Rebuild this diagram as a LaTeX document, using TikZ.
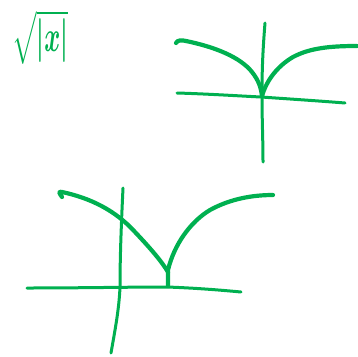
\documentclass[tikz,border=0pt]{standalone}
\usepackage{graphicx}
\definecolor{ink}{RGB}{0,176,80}
\begin{document}
\begin{tikzpicture}[x=1pt,y=-1pt,
  axisline/.style={ink,line width=3pt,line cap=round,line join=round},
  curveline/.style={ink,line width=4.2pt,line cap=round,line join=round}]
\useasboundingbox (0,0) rectangle (358,356);
% label
\node[ink,anchor=north west,inner sep=0pt] (lbl) at (12,10) {\resizebox{56pt}{41pt}{\boldmath$\sqrt{|x|}$}};
% top-right graph
\draw[axisline] (265,23) .. controls (262,60) and (262,80) .. (262,97) .. controls (262,120) and (263,140) .. (263,162);
\draw[axisline] (177,93) .. controls (210,94) and (240,96) .. (261,97) .. controls (290,99) and (320,101) .. (345,103);
\draw[curveline] (176,43) .. controls (177,40) and (182,40) .. (186,41) .. controls (215,47) and (240,57) .. (252,72) .. controls (259,81) and (261,88) .. (262,96);
\draw[curveline] (262,96) .. controls (266,82) and (276,67) .. (293,57) .. controls (310,48) and (330,46) .. (357,46);
% bottom graph
\draw[axisline] (123,188) .. controls (121,230) and (120,260) .. (120,287) .. controls (119,310) and (115,330) .. (111,353);
\draw[axisline] (27,288) .. controls (80,288) and (130,287) .. (167,287) .. controls (195,288) and (220,290) .. (241,292);
\draw[curveline] (62,197) .. controls (59,193) and (58,191) .. (62,192) .. controls (90,198) and (115,210) .. (135,232) .. controls (152,250) and (162,262) .. (168,272);
\draw[curveline] (168,286) -- (168,270) .. controls (174,245) and (190,222) .. (210,210) .. controls (230,199) and (252,195) .. (273,195);
\end{tikzpicture}
\end{document}
